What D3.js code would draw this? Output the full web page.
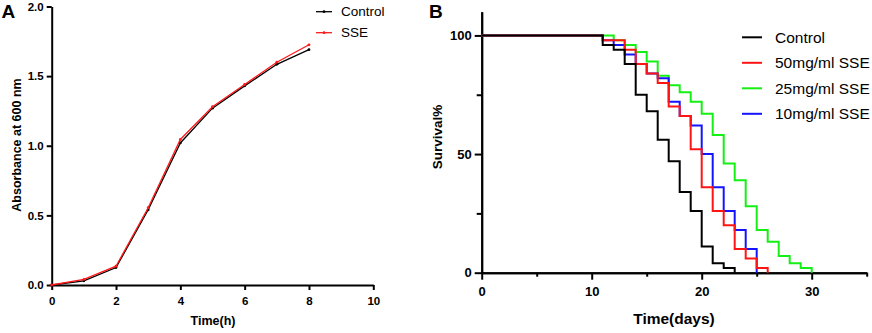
<!DOCTYPE html>
<html>
<head>
<meta charset="utf-8">
<script src="https://cdn.jsdelivr.net/npm/d3@7"></script>
<style>
  html, body { margin: 0; padding: 0; background: #fff; }
  svg { display: block; font-family: Arial, "Liberation Sans", sans-serif; }
</style>
</head>
<body>
<div id="chart"></div>
<script>
const W = 872;
const H = 333;

// panel A: growth curve
const hours = [0, 1, 2, 3, 4, 5, 6, 7, 8];
const controlOD = [0, 0.03, 0.125, 0.54, 1.02, 1.27, 1.43, 1.585, 1.69];
const sseOD = [0, 0.04, 0.135, 0.555, 1.045, 1.28, 1.44, 1.6, 1.725];
const growthNames = ['Control', 'SSE'];
const growthColors = ['#000000', '#ff1a1a'];

// panel B: survival (day -> percent)
const survControl = [[0, 100], [11, 96], [12, 94], [13, 88], [14, 75], [15, 68], [16, 56], [17, 47], [18, 34], [19, 26], [20, 11], [21, 4], [22, 2], [23, 0]];
const surv50 = [[0, 100], [11, 98], [13, 94], [14, 88], [15, 84], [16, 80], [17, 70], [18, 66], [19, 52], [20, 36], [21, 26], [22, 20], [23, 10], [24, 6], [25, 2], [26, 0]];
const surv25 = [[0, 100], [12, 98], [13, 96], [14, 93], [15, 89], [16, 83], [17, 79], [18, 76], [19, 72], [20, 67], [21, 58], [22, 46], [23, 39], [24, 28], [25, 18], [26, 13], [27, 7], [28, 4], [29, 2], [30, 0]];
const surv10 = [[0, 100], [11, 98], [12, 96], [13, 92], [14, 88], [15, 84], [16, 82], [17, 72], [18, 66], [19, 62], [20, 50], [21, 36], [22, 26], [23, 18], [24, 10], [25, 0]];
const survNames = ['Control', '50mg/ml SSE', '25mg/ml SSE', '10mg/ml SSE'];
const survColors = ['#000000', '#ff1414', '#14f014', '#1414ff'];

const svg = d3.select('#chart')
  .append('svg')
  .attr('width', W)
  .attr('height', H);

function styleAxis(g, size) {
  g.select('.domain').attr('stroke', '#000').attr('stroke-width', 2);
  g.selectAll('.tick line').attr('stroke', '#000').attr('stroke-width', 2);
  g.selectAll('.tick text')
    .attr('fill', '#000')
    .attr('font-size', size)
    .attr('font-weight', 'bold')
    .attr('font-family', 'Arial, "Liberation Sans", sans-serif');
}

// ---------- panel A ----------
const xA = d3.scaleLinear().domain([0, 10]).range([51.7, 373.3]);
const yA = d3.scaleLinear().domain([0, 2]).range([285, 6.5]);

svg.append('g')
  .attr('transform', `translate(0, ${yA(0)})`)
  .call(d3.axisBottom(xA).tickValues([0, 2, 4, 6, 8, 10]).tickFormat(d3.format('d'))
    .tickSize(5).tickSizeOuter(0).tickPadding(7))
  .call(g => styleAxis(g, 11.5));

svg.append('g')
  .attr('transform', `translate(${xA(0)}, 0)`)
  .call(d3.axisLeft(yA).tickValues([0, 0.5, 1, 1.5, 2]).tickFormat(d3.format('.1f'))
    .tickSize(5).tickSizeOuter(0).tickPadding(3))
  .call(g => styleAxis(g, 11.5));

const lineA = d3.line().x((d, i) => xA(hours[i])).y(d => yA(d));
[controlOD, sseOD].forEach((vals, k) => {
  svg.append('path')
    .datum(vals)
    .attr('fill', 'none')
    .attr('stroke', growthColors[k])
    .attr('stroke-width', 1.3)
    .attr('d', lineA);
  svg.append('g').selectAll('circle')
    .data(vals)
    .join('circle')
    .attr('cx', (d, i) => xA(hours[i]))
    .attr('cy', d => yA(d))
    .attr('r', 1.4)
    .attr('fill', growthColors[k]);
});

// legend A
growthNames.forEach((name, k) => {
  const y = 11.7 + k * 21;
  svg.append('line')
    .attr('x1', 316).attr('x2', 332).attr('y1', y).attr('y2', y)
    .attr('stroke', growthColors[k]).attr('stroke-width', 1.3);
  svg.append('circle').attr('cx', 324).attr('cy', y).attr('r', 1.4).attr('fill', growthColors[k]);
  svg.append('text')
    .attr('x', 341).attr('y', y + 4.7)
    .attr('font-size', 13.5)
    .text(name);
});

svg.append('text')
  .attr('transform', 'translate(20.5, 145) rotate(-90)')
  .attr('text-anchor', 'middle')
  .attr('font-size', 12.5)
  .attr('font-weight', 'bold')
  .text('Absorbance at 600 nm');

svg.append('text')
  .attr('x', 213).attr('y', 325)
  .attr('text-anchor', 'middle')
  .attr('font-size', 12.5)
  .attr('font-weight', 'bold')
  .text('Time(h)');

svg.append('text')
  .attr('x', 1.5).attr('y', 18.3)
  .attr('font-size', 19)
  .attr('font-weight', 'bold')
  .text('A');

// ---------- panel B ----------
const xB = d3.scaleLinear().domain([0, 35]).range([481.7, 866.7]);
const yB = d3.scaleLinear().domain([0, 110]).range([272.7, 11.7]);

// minor ticks
svg.append('g')
  .attr('transform', `translate(0, ${yB(0)})`)
  .call(d3.axisBottom(xB).tickValues([5, 15, 25, 35]).tickFormat('').tickSize(4).tickSizeOuter(0))
  .call(g => styleAxis(g, 13));
svg.append('g')
  .attr('transform', `translate(${xB(0)}, 0)`)
  .call(d3.axisLeft(yB).tickValues([25, 75]).tickFormat('').tickSize(5).tickSizeOuter(0))
  .call(g => styleAxis(g, 13));

svg.append('g')
  .attr('transform', `translate(0, ${yB(0)})`)
  .call(d3.axisBottom(xB).tickValues([0, 10, 20, 30]).tickSize(7).tickSizeOuter(0).tickPadding(7))
  .call(g => styleAxis(g, 13));

svg.append('g')
  .attr('transform', `translate(${xB(0)}, 0)`)
  .call(d3.axisLeft(yB).tickValues([0, 50, 100]).tickSize(7).tickSizeOuter(0).tickPadding(3))
  .call(g => styleAxis(g, 13));

const lineB = d3.line()
  .x(d => xB(d[0]))
  .y(d => yB(d[1]))
  .curve(d3.curveStepAfter);

const survSeries = [survControl, surv50, surv25, surv10];
// draw order: green, blue, red, black on top
[2, 3, 1, 0].forEach(k => {
  svg.append('path')
    .datum(survSeries[k])
    .attr('fill', 'none')
    .attr('stroke', survColors[k])
    .attr('stroke-width', 2)
    .attr('d', lineB);
});

// legend B
survNames.forEach((name, k) => {
  const y = 37.3 + k * 25.5;
  svg.append('line')
    .attr('x1', 742).attr('x2', 762).attr('y1', y).attr('y2', y)
    .attr('stroke', survColors[k]).attr('stroke-width', 2);
  svg.append('text')
    .attr('x', 775).attr('y', y + 5.5)
    .attr('font-size', 15.5)
    .text(name);
});

svg.append('text')
  .attr('transform', 'translate(441.5, 137) rotate(-90)')
  .attr('text-anchor', 'middle')
  .attr('font-size', 13.5)
  .attr('font-weight', 'bold')
  .text('Survival%');

svg.append('text')
  .attr('x', 674).attr('y', 323.5)
  .attr('text-anchor', 'middle')
  .attr('font-size', 15.5)
  .attr('font-weight', 'bold')
  .text('Time(days)');

svg.append('text')
  .attr('x', 429).attr('y', 18.3)
  .attr('font-size', 19)
  .attr('font-weight', 'bold')
  .text('B');
</script>
</body>
</html>
